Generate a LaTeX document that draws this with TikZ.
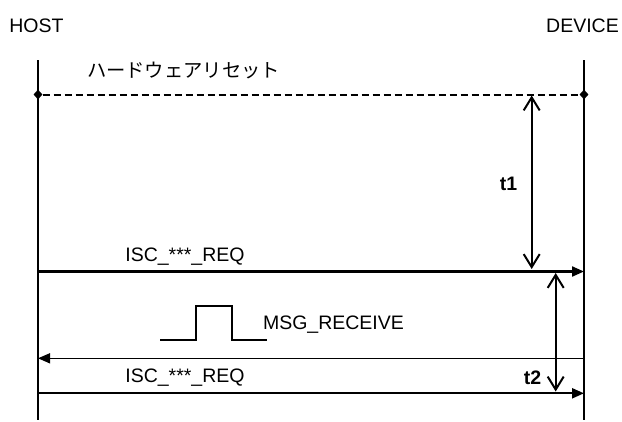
\documentclass[tikz,border=0pt]{standalone}
\usepackage{fontspec}
\setmainfont{Liberation Sans}
\newfontfamily\jpfont{Noto Sans CJK JP}
\usetikzlibrary{arrows.meta,shapes.geometric}
\begin{document}
\begin{tikzpicture}[x=1pt,y=-1pt,
  lbl/.style={inner sep=0pt,anchor=base,font=\fontsize{19.5}{22}\selectfont},
  tlbl/.style={inner sep=0pt,anchor=base,font=\fontsize{19.5}{22}\selectfont\bfseries},
  life/.style={line width=1.5pt},
  msg/.style={line width=2.2pt,-{Triangle[length=12pt,width=10pt]}},
  retmsg/.style={line width=1.5pt,-{Triangle[length=12pt,width=10pt]}},
  dim/.style={line width=2pt,{Straight Barb[length=13pt,width=16pt,line width=2pt]}-{Straight Barb[length=13pt,width=16pt,line width=2pt]}},
  dia/.style={diamond,fill=black,inner sep=0pt,minimum width=9pt,minimum height=10pt},
]
\useasboundingbox (0,0) rectangle (622,421);
% headers
\node[lbl] (host) at (36.5,32) {HOST};
\node[lbl] (dev) at (582.5,32) {DEVICE};
% lifelines
\coordinate (hTop) at (38,60);
\coordinate (hBot) at (38,420);
\coordinate (dTop) at (584,60);
\coordinate (dBot) at (584,420);
\draw[life] (hTop) -- (hBot);
\draw[life] (dTop) -- (dBot);
% reset
\node[lbl,font=\fontsize{19.3}{22}\selectfont\jpfont] (reset) at (183.5,77) {ハードウェアリセット};
\node[dia] (r1) at (38,94.5) {};
\node[dia] (r2) at (584,94.5) {};
\draw[line width=2pt,dash pattern=on 7pt off 4pt] (r1) -- (r2);
% message 1
\coordinate (m1a) at (38,271.5);
\coordinate (m1b) at (584,271.5);
\draw[msg] (m1a) -- (m1b);
\node[lbl] (isc1) at (185,261.5) {ISC\_***\_REQ};
% t1
\coordinate (t1a) at (531.7,95.5);
\coordinate (t1b) at (531.7,269);
\draw[dim] (t1a) -- (t1b);
\node[tlbl] (t1) at (508.5,190) {t1};
% pulse
\coordinate (p0) at (160,340);
\coordinate (p1) at (196,340);
\coordinate (p2) at (196,306);
\coordinate (p3) at (232,306);
\coordinate (p4) at (232,340);
\coordinate (p5) at (267,340);
\draw[line width=1.5pt] (p0) -- (p1) -- (p2) -- (p3) -- (p4) -- (p5);
\node[lbl] (msgr) at (333.5,329.3) {MSG\_RECEIVE};
% return
\coordinate (m2a) at (584,358.3);
\coordinate (m2b) at (38,358.3);
\draw[retmsg] (m2a) -- (m2b);
% message 2
\node[lbl] (isc2) at (185,382) {ISC\_***\_REQ};
\coordinate (m3a) at (38,393.3);
\coordinate (m3b) at (584,393.3);
\draw[msg] (m3a) -- (m3b);
% t2
\coordinate (t2a) at (555.7,273);
\coordinate (t2b) at (555.7,391.5);
\draw[dim] (t2a) -- (t2b);
\node[tlbl] (t2) at (532.5,384) {t2};
\end{tikzpicture}
\end{document}
